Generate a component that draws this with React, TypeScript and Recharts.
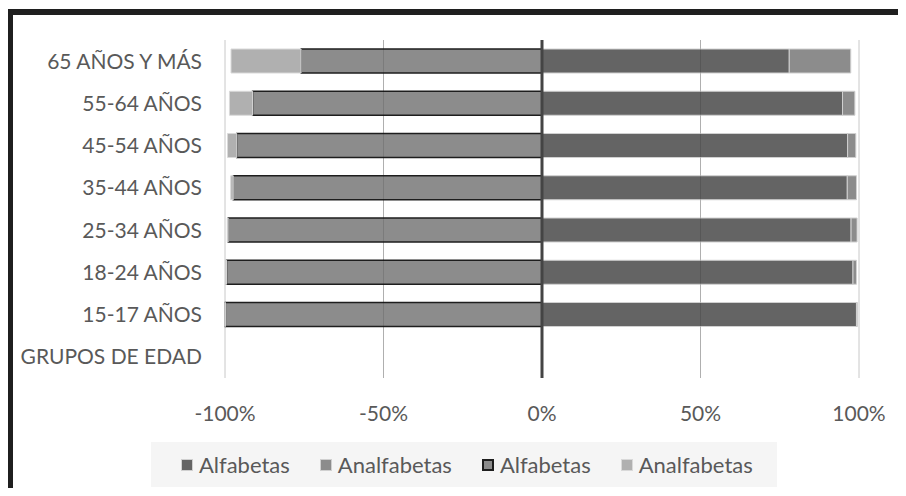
import { Bar, BarChart, CartesianGrid, ReferenceLine, XAxis, YAxis } from "recharts";

const GROUPS = [
  "65 AÑOS Y MÁS",
  "55-64 AÑOS",
  "45-54 AÑOS",
  "35-44 AÑOS",
  "25-34 AÑOS",
  "18-24 AÑOS",
  "15-17 AÑOS",
  "GRUPOS DE EDAD",
];

// right side (positive)
const RIGHT_ALF = [78.0, 94.8, 96.4, 96.3, 97.5, 98.1, 99.2, null];
const RIGHT_ANALF = [19.4, 3.9, 2.6, 2.9, 1.9, 1.1, 0.3, null];
// left side (drawn negative)
const LEFT_ALF = [76.0, 91.3, 96.3, 97.4, 99.0, 99.5, 99.9, null];
const LEFT_ANALF = [22.1, 7.3, 2.9, 0.8, 0.3, 0.2, 0.1, null];

const X_TICKS = [-100, -50, 0, 50, 100];
const LEGEND_LABELS = ["Alfabetas", "Analfabetas", "Alfabetas", "Analfabetas"];

const FONT = "Lato, 'Noto Sans', sans-serif";
const TEXT = "#595959";

const data = GROUPS.map((g, i) => ({
  group: g,
  derAlf: RIGHT_ALF[i],
  derAnalf: RIGHT_ANALF[i],
  izqAlf: LEFT_ALF[i] == null ? null : -(LEFT_ALF[i] as number),
  izqAnalf: LEFT_ANALF[i] == null ? null : -(LEFT_ANALF[i] as number),
}));

const legendSwatches = [
  { fill: "#646464", border: "1px solid #d0d0d0" },
  { fill: "#8c8c8c", border: "1px solid #d0d0d0" },
  { fill: "#8c8c8c", border: "2px solid #1e1e1e" },
  { fill: "#b0b0b0", border: "1px solid #d9d9d9" },
];

export default function App() {
  return (
    <div
      style={{
        position: "relative",
        width: 906,
        height: 496,
        margin: -8,
        overflow: "hidden",
        background: "#ffffff",
        fontFamily: FONT,
      }}
    >
      <div
        style={{
          position: "absolute",
          left: 446,
          top: -22,
          fontSize: 26,
          fontWeight: 700,
          color: "#404040",
          whiteSpace: "nowrap",
          lineHeight: "30px",
        }}
      >
        por grupos de edad y
      </div>
      <div
        style={{
          position: "absolute",
          left: 7,
          top: 9,
          width: 930,
          height: 530,
          border: "6px solid #1f1f1f",
          boxSizing: "border-box",
        }}
      />
      <div style={{ position: "absolute", left: 0, top: 0 }}>
        <BarChart
          width={906}
          height={496}
          data={data}
          layout="vertical"
          stackOffset="sign"
          barSize={24}
          margin={{ top: 40, right: 47, bottom: 68, left: 0 }}
        >
          <CartesianGrid horizontal={false} stroke="#c8c8c8" />
          <XAxis
            type="number"
            domain={[-100, 100]}
            ticks={X_TICKS}
            tickFormatter={(v: number) => `${v}%`}
            axisLine={false}
            tickLine={false}
            tickMargin={22}
            height={50}
            tick={{ fill: TEXT, fontSize: 21, fontFamily: FONT }}
          />
          <YAxis
            type="category"
            dataKey="group"
            width={225}
            interval={0}
            axisLine={false}
            tickLine={false}
            tickMargin={17}
            tick={{ fill: TEXT, fontSize: 21, fontFamily: FONT }}
          />
          <Bar dataKey="derAlf" stackId="a" fill="#646464" stroke="#d0d0d0" strokeWidth={1} isAnimationActive={false} />
          <Bar dataKey="derAnalf" stackId="a" fill="#8c8c8c" stroke="#d0d0d0" strokeWidth={1} isAnimationActive={false} />
          <Bar dataKey="izqAlf" stackId="a" fill="#8c8c8c" stroke="#1e1e1e" strokeWidth={1.5} isAnimationActive={false} />
          <Bar dataKey="izqAnalf" stackId="a" fill="#b0b0b0" stroke="#d9d9d9" strokeWidth={1} isAnimationActive={false} />
          <ReferenceLine x={-50} stroke="#000000" strokeOpacity={0.12} />
          <ReferenceLine x={50} stroke="#000000" strokeOpacity={0.12} />
          <ReferenceLine x={0} stroke="#444444" strokeWidth={3} />
        </BarChart>
      </div>
      <div
        style={{
          position: "absolute",
          left: 151,
          top: 442,
          width: 626,
          height: 45,
          background: "#f5f5f5",
          display: "flex",
          alignItems: "center",
          paddingLeft: 30,
          boxSizing: "border-box",
          gap: 30,
          fontSize: 22,
          color: TEXT,
        }}
      >
        {LEGEND_LABELS.map((label, i) => (
          <div key={i} style={{ display: "flex", alignItems: "center", gap: 6 }}>
            <span
              style={{
                display: "inline-block",
                width: 12,
                height: 12,
                background: legendSwatches[i].fill,
                border: legendSwatches[i].border,
                boxSizing: "border-box",
              }}
            />
            <span>{label}</span>
          </div>
        ))}
      </div>
    </div>
  );
}
